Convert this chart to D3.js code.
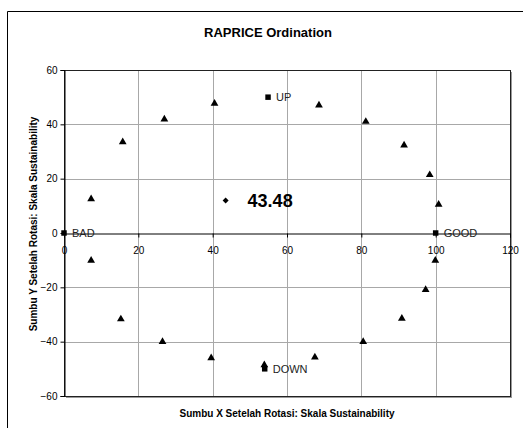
<!DOCTYPE html>
<html><head><meta charset="utf-8">
<script src="https://cdn.jsdelivr.net/npm/d3@7"></script>
<style>body{margin:0;background:#fff;}svg{display:block;font-family:Arial,"Liberation Sans",sans-serif;}</style>
</head><body>
<svg id="c" width="523" height="428"></svg>
<script>
const title = "RAPRICE Ordination";
const xTitle = "Sumbu X Setelah Rotasi: Skala Sustainability";
const yTitle = "Sumbu Y Setelah Rotasi: Skala Sustainability";
const xTicks = [0, 20, 40, 60, 80, 100, 120];
const yTicks = [-60, -40, -20, 0, 20, 40, 60];
// anchor / reference points
const refNames = ["BAD", "GOOD", "UP", "DOWN"];
const refX = [0, 100, 54.9, 54];
const refY = [0, 0, 50, -50];
// rotation triangle points
const triX = [7.3, 15.8, 27.0, 40.5, 68.6, 81.2, 91.5, 98.4, 100.8, 99.9, 97.3, 90.9, 80.5, 67.5, 53.9, 39.6, 26.5, 15.3, 7.3];
const triY = [12.5, 33.5, 41.9, 47.7, 47.0, 41.0, 32.3, 21.4, 10.5, -10.1, -20.9, -31.5, -40.0, -45.7, -48.6, -46.0, -40.0, -31.7, -10.1];
// sustainability index point
const indexX = [43.48];
const indexY = [12.0];
const indexLabel = ["43.48"];

const svg = d3.select("#c");
const L = 64, R = 510, T = 70, B = 396;
const x = d3.scaleLinear().domain([0, 120]).range([L, R]);
const y = d3.scaleLinear().domain([-60, 60]).range([B, T]);

// outer chart border
svg.append("path").attr("d", "M7.5,440 V11.5 H530").attr("fill", "none").attr("stroke", "#000").attr("stroke-width", 1);

// plot shadow
svg.append("rect").attr("x", L + 2).attr("y", T + 2).attr("width", R - L).attr("height", B - T)
  .attr("fill", "#9a9a9a");
svg.append("rect").attr("x", L).attr("y", T).attr("width", R - L).attr("height", B - T).attr("fill", "#fff");

// gridlines
const g = svg.append("g");
g.selectAll(".gx").data(xTicks.filter(d => d > 0 && d < 120)).join("line")
  .attr("x1", d => Math.round(x(d)) + 0.5).attr("x2", d => Math.round(x(d)) + 0.5)
  .attr("y1", T).attr("y2", B).attr("stroke", "#a8a8a8").attr("stroke-width", 1);
g.selectAll(".gy").data(yTicks.filter(d => d !== 0 && Math.abs(d) < 60)).join("line")
  .attr("y1", d => Math.round(y(d)) + 0.5).attr("y2", d => Math.round(y(d)) + 0.5)
  .attr("x1", L).attr("x2", R).attr("stroke", "#a8a8a8").attr("stroke-width", 1);

// plot border
svg.append("rect").attr("x", L + 0.5).attr("y", T + 0.5).attr("width", R - L).attr("height", B - T)
  .attr("fill", "none").attr("stroke", "#222").attr("stroke-width", 1);

// x axis at y=0
const xAxis = d3.axisBottom(x).tickValues(xTicks).tickSize(4).tickPadding(9).tickFormat(d3.format("d"));
const xa = svg.append("g").attr("transform", `translate(0,${Math.round(y(0)) + 0.5})`).call(xAxis);
xa.select(".domain").attr("stroke", "#000");
xa.selectAll("line").attr("stroke", "#000");
xa.selectAll("text").attr("font-size", 10).attr("fill", "#000").attr("font-family", "Arial, Liberation Sans, sans-serif");

// y axis at x=0
const yAxis = d3.axisLeft(y).tickValues(yTicks).tickSize(4).tickPadding(3).tickFormat(d3.format("d"));
const ya = svg.append("g").attr("transform", `translate(${L + 0.5},0)`).call(yAxis);
ya.select(".domain").attr("stroke", "#000");
ya.selectAll("line").attr("stroke", "#000");
ya.selectAll("text").attr("font-size", 10).attr("fill", "#000").attr("font-family", "Arial, Liberation Sans, sans-serif");

// triangles
const tri = d3.symbol().type(d3.symbolTriangle).size(26);
svg.append("g").selectAll("path").data(triX.map((v, i) => [v, triY[i]])).join("path")
  .attr("d", tri).attr("transform", d => `translate(${x(d[0])},${y(d[1])})`).attr("fill", "#000");

// reference squares
const sq = d3.symbol().type(d3.symbolSquare).size(30);
const refs = refNames.map((n, i) => ({ n, x: refX[i], y: refY[i] }));
svg.append("g").selectAll("path").data(refs).join("path")
  .attr("d", sq).attr("transform", d => `translate(${x(d.x)},${y(d.y)})`).attr("fill", "#000");
svg.append("g").selectAll("text").data(refs).join("text")
  .attr("x", d => x(d.x) + 8).attr("y", d => y(d.y) + 4)
  .attr("font-size", 11).attr("fill", "#222").text(d => d.n);

// index diamond (square rotated 45°)
const dia = d3.symbol().type(d3.symbolSquare).size(18);
svg.append("g").selectAll("path").data(indexX.map((v, i) => [v, indexY[i]])).join("path")
  .attr("d", dia).attr("transform", d => `translate(${x(d[0])},${y(d[1])}) rotate(45)`).attr("fill", "#000");
svg.append("g").selectAll("text").data(indexX.map((v, i) => [v, indexY[i], indexLabel[i]])).join("text")
  .attr("x", d => x(d[0]) + 22).attr("y", d => y(d[1]) + 7)
  .attr("font-size", 18).attr("font-weight", "bold").attr("fill", "#000").text(d => d[2]);

// titles
svg.append("text").attr("x", 268).attr("y", 37).attr("text-anchor", "middle")
  .attr("font-size", 13).attr("font-weight", "bold").text(title);
svg.append("text").attr("x", 287).attr("y", 417).attr("text-anchor", "middle")
  .attr("font-size", 10).attr("font-weight", "bold").text(xTitle);
svg.append("text").attr("transform", "translate(37,224) rotate(-90)").attr("text-anchor", "middle")
  .attr("font-size", 10).attr("font-weight", "bold").text(yTitle);
</script>
</body></html>
